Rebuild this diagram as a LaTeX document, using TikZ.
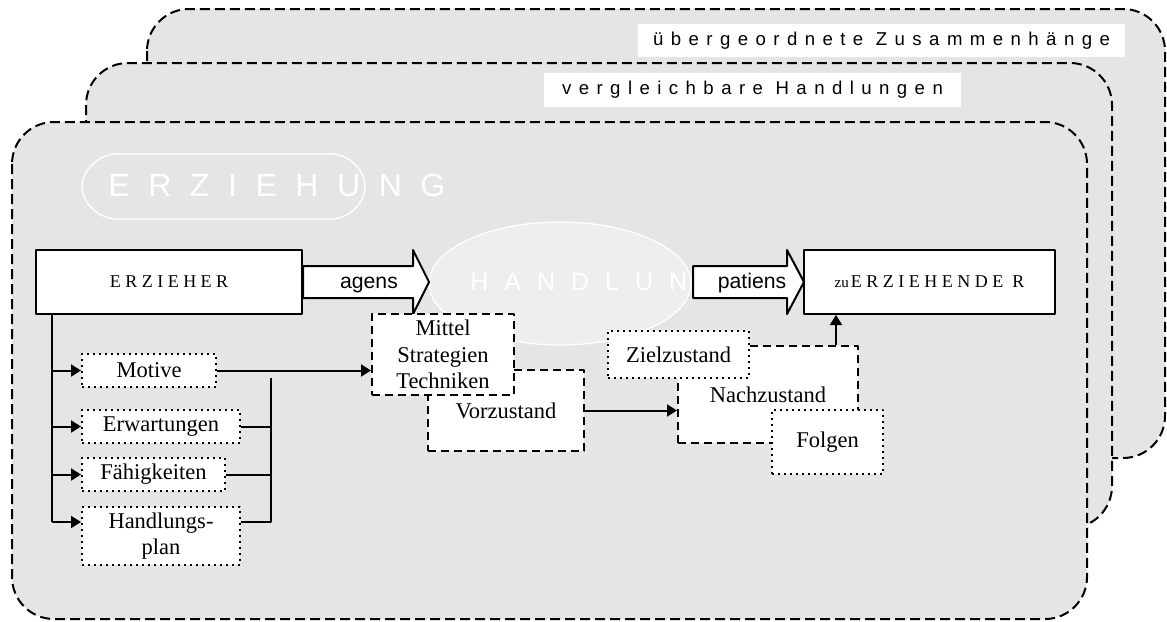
\documentclass[tikz,border=0pt]{standalone}
\usepackage{fontspec}
\setmainfont{Liberation Serif}
\newfontfamily\labelfont{Liberation Sans}
\newfontfamily\tagfont[LetterSpace=40]{Liberation Sans}
\newfontfamily\wordfont[LetterSpace=58]{Liberation Sans}
\newfontfamily\capsfont[LetterSpace=25]{Liberation Serif}
\usetikzlibrary{arrows.meta,calc,shapes.geometric}
\definecolor{layergray}{RGB}{229,229,229}
\definecolor{cloudgray}{RGB}{238,238,238}
\tikzset{>={Triangle[length=5pt,width=6pt]},
every picture/.append style={
    line join=round
  }}

\begin{document}
\begin{tikzpicture}[x=0.5pt,y=-0.5pt,
    font=\fontsize{11.25pt}{13.25pt}\selectfont,
    layer/.style={draw,fill=layergray,line width=1pt,dash pattern=on 5pt off 2.5pt,rounded corners=21pt},
    tag/.style={fill=white,inner sep=0pt,font=\tagfont\fontsize{9.3pt}{11pt}\selectfont},
    bigword/.style={text=white,inner sep=0pt,font=\wordfont\fontsize{16pt}{18pt}\selectfont},
    mainbox/.style={draw,fill=white,line width=1pt,inner sep=0pt,minimum height=32pt,font=\capsfont\fontsize{9pt}{11pt}\selectfont},
    blockarrow/.style={draw,fill=white,line width=1pt},
    arrowtext/.style={inner sep=0pt,anchor=base,font=\labelfont\fontsize{10.6pt}{12pt}\selectfont},
    dotbox/.style={draw,fill=white,line width=1pt,dash pattern=on 1pt off 2pt,inner sep=0pt,minimum height=16.5pt,align=center},
    dashbox/.style={draw,fill=white,line width=1pt,dash pattern=on 4pt off 2.5pt,inner sep=0pt,align=center},
    link/.style={line width=1pt}]
    \useasboundingbox (0,0) rectangle (1167,621);

    % three stacked contexts
    \draw[layer] (147,9) rectangle (1165,458);
    \draw[layer] (86,63) rectangle (1112,528);
    \draw[layer] (12,122) rectangle (1087,619);
    \node[tag,minimum width=243.5pt,minimum height=16.5pt] (overtag) at (881.5,40.5) {übergeordnete Zusammenhänge};
    \node[tag,minimum width=208.5pt,minimum height=17pt] (comptag) at (752.5,90) {vergleichbare Handlungen};

    % ERZIEHUNG and HANDLUNG in the background
    \draw[white,line width=0.7pt,rounded corners=6pt] (104,154) -- (344,154) -- (365,174) -- (365,199) -- (344,219) -- (104,219) -- (82,199) -- (82,174) -- cycle;
    \node[bigword,anchor=base west] (erzword) at (108,196) {ERZIEHUNG};
    \node[ellipse,draw=white,fill=cloudgray,line width=0.6pt,inner sep=0pt,minimum width=131pt,minimum height=61.5pt] (cloud) at (560,283.5) {};
    \node[bigword,anchor=base west,font=\wordfont\addfontfeature{LetterSpace=64}\fontsize{12.5pt}{14pt}\selectfont] (handword) at (470,290) {HANDLUN};

    % agens and patiens
    \node[mainbox,minimum width=133pt] (erzieher) at (169,282) {ERZIEHER};
    \node[mainbox,minimum width=125.5pt] (zieh) at (929.5,282) {{\rmfamily\fontsize{7.5pt}{9pt}\selectfont zu}\kern1pt ERZIEHENDE R};
    \draw[blockarrow] ([yshift=8pt]erzieher.east) -- ++(110,0) -- ++(0,-16) -- ++(16,32) -- ++(-16,32) -- ++(0,-16) -- ++(-110,0) -- cycle;
    \node[arrowtext] (agens) at ([xshift=33pt,yshift=-3pt]erzieher.east) {agens};
    \draw[blockarrow] ([xshift=-55pt,yshift=8pt]zieh.west) -- ++(94,0) -- ++(0,-16) -- ++(17,32) -- ++(-17,32) -- ++(0,-16) -- ++(-94,0) -- cycle;
    \node[arrowtext] (patiens) at ([xshift=-25.5pt,yshift=-3pt]zieh.west) {patiens};

    % what the educator brings
    \node[dotbox,minimum width=67pt] (motive) at (149,370.5) {Motive};
    \node[dotbox,minimum width=79pt] (erwart) at (161,426.5) {Erwartungen};
    \node[dotbox,minimum width=71.5pt] (faehig) at (153.5,474.5) {Fähigkeiten};
    \node[dotbox,minimum width=79pt,minimum height=29pt] (hplan) at (161,536) {Handlungs-\\plan};

    % states of the action
    \node[dashbox,minimum width=78pt,minimum height=40.5pt] (vorz) at (506,410.5) {Vorzustand};
    \node[dashbox,minimum width=71pt,minimum height=40.5pt] (mittel) at (443,354.5) {Mittel\\Strategien\\Techniken};
    \node[dashbox,minimum width=90pt,minimum height=48.5pt] (nach) at (768,394.5) {Nachzustand};
    \node[dotbox,minimum width=70.5pt,minimum height=23.5pt] (ziel) at (678.5,354.5) {Zielzustand};
    \node[dotbox,minimum width=55.5pt,minimum height=32pt] (folgen) at (827.5,442) {Folgen};

    % connectors
    \coordinate (treetop) at ([xshift=-58.5pt]erzieher.south);
    \coordinate (hplanin) at ([yshift=-8pt]hplan.north west);
    \coordinate (hplanout) at ([yshift=-8pt]hplan.north east);
    \coordinate (collect) at (271,378);
    \draw[link] (treetop) -- (treetop |- hplanin);
    \foreach \b in {motive,erwart,faehig}
        \draw[link,->] (treetop |- \b.west) -- (\b.west);
    \draw[link,->] (treetop |- hplanin) -- (hplanin);
    \foreach \b in {erwart,faehig}
        \draw[link] (\b.east) -- (collect |- \b.east);
    \draw[link] (collect) -- (collect |- hplanout) -- (hplanout);
    \draw[link,->] (motive.east) -- (mittel.west |- motive.east);
    \draw[link,->] (vorz.east) -- (nach.west |- vorz.east);
    \coordinate (rise) at ([xshift=-11.5pt]nach.north east);
    \draw[link,->] (rise) -- (rise |- zieh.south);
\end{tikzpicture}
\end{document}
